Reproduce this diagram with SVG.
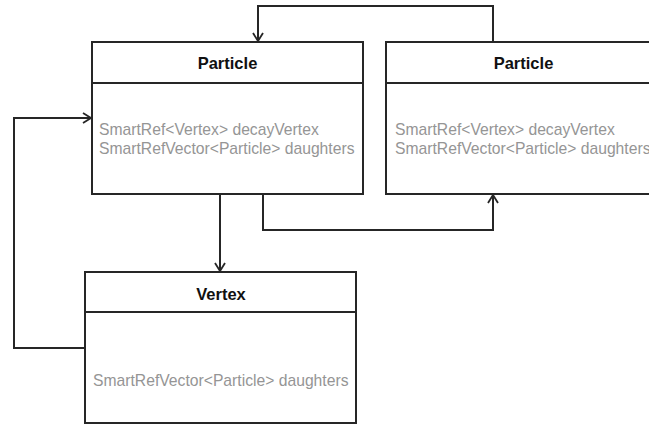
<svg xmlns="http://www.w3.org/2000/svg" width="649" height="425" viewBox="0 0 649 425">
<style>
.box{fill:#fff;stroke:#262626;stroke-width:2}
.div{stroke:#262626;stroke-width:2}
.title{font-family:"Liberation Sans",Arial,sans-serif;font-weight:bold;font-size:16.5px;fill:#111;text-anchor:middle}
.attr{font-family:"Liberation Sans",Arial,sans-serif;font-size:15.7px;fill:#959595}
.conn{fill:none;stroke:#262626;stroke-width:2}
</style>
<defs>
<marker id="arr" markerWidth="12" markerHeight="12" refX="10" refY="6" orient="auto" markerUnits="userSpaceOnUse">
<path d="M2,1 L10,6 L2,11" fill="none" stroke="#262626" stroke-width="1.8"/>
</marker>
</defs>
<g id="particle1">
<rect class="box" x="92" y="42" width="271" height="152"/>
<line class="div" x1="92" y1="83" x2="363" y2="83"/>
<text class="title" x="227.5" y="69">Particle</text>
<text class="attr" x="99" y="135">SmartRef&lt;Vertex&gt; decayVertex</text>
<text class="attr" x="99" y="154">SmartRefVector&lt;Particle&gt; daughters</text>
</g>
<g id="particle2">
<rect class="box" x="386" y="42" width="274" height="152"/>
<line class="div" x1="386" y1="83" x2="660" y2="83"/>
<text class="title" x="523.5" y="69">Particle</text>
<text class="attr" x="395" y="135">SmartRef&lt;Vertex&gt; decayVertex</text>
<text class="attr" x="395" y="154">SmartRefVector&lt;Particle&gt; daughters</text>
</g>
<g id="vertex">
<rect class="box" x="85" y="272" width="271" height="151"/>
<line class="div" x1="85" y1="312" x2="356" y2="312"/>
<text class="title" x="221" y="300">Vertex</text>
<text class="attr" x="93" y="386">SmartRefVector&lt;Particle&gt; daughters</text>
</g>
<g id="connectors">
<polyline class="conn" points="493,42 493,6 258,6 258,41" marker-end="url(#arr)"/>
<polyline class="conn" points="263,194 263,230 493,230 493,195" marker-end="url(#arr)"/>
<line class="conn" x1="220" y1="194" x2="220" y2="271" marker-end="url(#arr)"/>
<polyline class="conn" points="85,348 14,348 14,118 91,118" marker-end="url(#arr)"/>
</g>
</svg>
